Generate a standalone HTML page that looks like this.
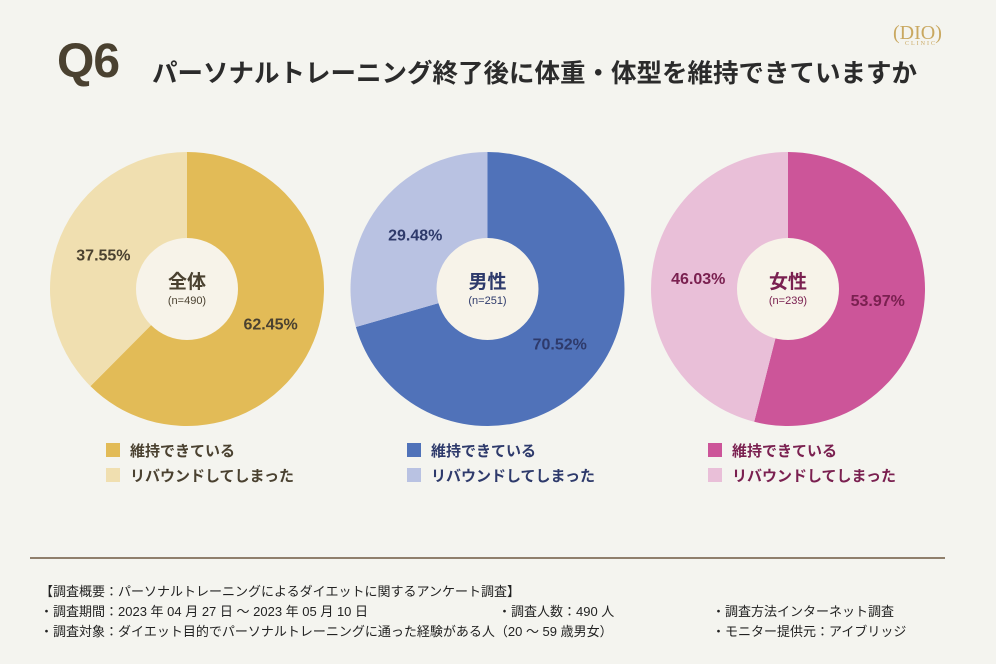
<!DOCTYPE html>
<html><head><meta charset="utf-8"><style>
body{margin:0;width:996px;height:664px;background:#f4f4ef;font-family:"Liberation Sans","Noto Sans CJK JP",sans-serif;overflow:hidden;position:relative}
.abs{position:absolute;white-space:nowrap}
</style></head><body>
<div class="abs" style="left:57px;top:34px;font-size:48px;font-weight:900;color:#4a4130;letter-spacing:-1px">Q6</div>
<div class="abs" style="left:152px;top:53px;font-size:25.5px;font-weight:700;color:#2b2b2b">パーソナルトレーニング終了後に体重・体型を維持できていますか</div>
<div class="abs" style="left:893px;top:22px;font-size:20px;color:#c9a860;font-family:'Liberation Serif',serif">(DIO)<div style="font-size:6px;letter-spacing:2px;margin-left:12px;margin-top:-4px">CLINIC</div></div>
<svg id="pies" width="996" height="664" style="position:absolute;left:0;top:0"></svg>
<div class="abs" style="left:30px;top:557px;width:915px;height:2px;background:#8f7f6c"></div>
<div class="abs" style="left:40px;top:582px;font-size:13px;color:#222;line-height:20px">
<div>【調査概要：パーソナルトレーニングによるダイエットに関するアンケート調査】</div>
<div>・調査期間：2023 年 04 月 27 日 ～ 2023 年 05 月 10 日<span style="position:absolute;left:458px">・調査人数：490 人</span><span style="position:absolute;left:672px">・調査方法インターネット調査</span></div>
<div>・調査対象：ダイエット目的でパーソナルトレーニングに通った経験がある人（20 ～ 59 歳男女）<span style="position:absolute;left:672px">・モニター提供元：アイブリッジ</span></div>
</div>
<script>
const groups=["全体","男性","女性"];
const sampleSizes=[490,251,239];
const maintainValues=[62.45,70.52,53.97];
const reboundValues=[37.55,29.48,46.03];
const categories=["維持できている","リバウンドしてしまった"];
const darkColors=["#e2bb57","#5072b9","#cc5599"];
const lightColors=["#f0dfb0","#b9c2e2","#e9bfd8"];
const textColors=["#4a4130","#2e3a6b","#7a2050"];
const svg=document.getElementById('pies');
const NS="http://www.w3.org/2000/svg";
function mk(t,a){const e=document.createElementNS(NS,t);for(const k in a)e.setAttribute(k,a[k]);svg.appendChild(e);return e;}
function pt(cx,cy,r,f){const a=f*2*Math.PI-Math.PI/2;return[cx+r*Math.cos(a),cy+r*Math.sin(a)];}
function arc(cx,cy,r,f0,f1){const p0=pt(cx,cy,r,f0),p1=pt(cx,cy,r,f1);return `M${cx},${cy}L${p0[0]},${p0[1]}A${r},${r} 0 ${f1-f0>0.5?1:0} 1 ${p1[0]},${p1[1]}Z`;}
const R=137;
groups.forEach((g,i)=>{
 const cx=187+i*300.5,cy=289;
 const tot=maintainValues[i]+reboundValues[i];
 const f=maintainValues[i]/tot;
 const s1=mk('path',{d:arc(cx,cy,R,0,f),fill:darkColors[i]});
 
 
 const s2=mk('path',{d:arc(cx,cy,R,f,1),fill:lightColors[i]});
 
 
 const h=mk('circle',{cx:cx,cy:cy,r:51,fill:'#f7f3e9'});
 
 
 const t=mk('text',{x:cx,y:cy-1,'text-anchor':'middle','font-size':19,'font-weight':700,fill:textColors[i]});t.textContent=g;
 
 
 const n=mk('text',{x:cx,y:cy+15,'text-anchor':'middle','font-size':11,fill:textColors[i]});n.textContent='(n='+sampleSizes[i]+')';
 
 
 const vals=[maintainValues[i],reboundValues[i]];
 let start=0;
 vals.forEach((v,j)=>{
  const fr=v/tot,mid=start+fr/2;start+=fr;
  const p=pt(cx,cy,R*0.66,mid);
  const l=mk('text',{x:p[0],y:p[1]+6,'text-anchor':'middle','font-size':16,'font-weight':700,fill:textColors[i]});
  l.textContent=v.toFixed(2)+'%';
  
  
 });
 categories.forEach((c,j)=>{
  const lx=106+i*301,ly=443+j*25;
  const r=mk('rect',{x:lx,y:ly,width:14,height:14,fill:j?lightColors[i]:darkColors[i]});
  
  
  const tx=mk('text',{x:lx+24,y:ly+13,'font-size':15,'font-weight':600,fill:textColors[i]});tx.textContent=c;
  
  
 });
});
</script>
</body></html>
